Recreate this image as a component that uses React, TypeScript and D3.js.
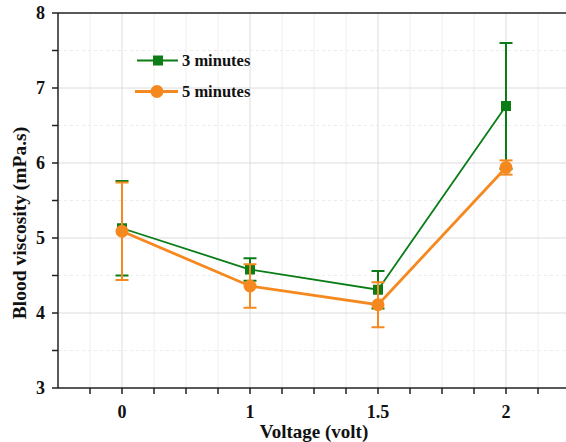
import React from "react";
import * as d3 from "d3";

const categories = ["0", "1", "1.5", "2"];
const series3 = [5.13, 4.58, 4.31, 6.76];
const err3 = [0.63, 0.15, 0.25, 0.84];
const series5 = [5.09, 4.36, 4.11, 5.94];
const err5 = [0.65, 0.29, 0.3, 0.095];
const yTicks = [3, 4, 5, 6, 7, 8];
const seriesNames = ["3 minutes", "5 minutes"];

const W = 566;
const H = 442;
const left = 58;
const bottom = 388;
const top = 13;
const font = "'Liberation Serif', 'Times New Roman', serif";
const green = "#0a7d16";
const orange = "#f5891f";

export default function App() {
  const x = d3.scaleLinear().domain([-0.5, 3.5]).range([left, left + 512]);
  const y = d3.scaleLinear().domain([3, 8]).range([bottom, top]);
  const xTickVals = d3.range(-0.5, 3.51, 0.25);
  const yMinor = d3.range(3, 8.01, 0.5);
  const line = d3
    .line<number>()
    .x((_, i) => x(i))
    .y((d) => y(d));

  const series = [
    { name: seriesNames[0], vals: series3, errs: err3, color: green, width: 1.8, marker: "square" },
    { name: seriesNames[1], vals: series5, errs: err5, color: orange, width: 2.8, marker: "circle" },
  ];

  return (
    <svg width={W} height={H} style={{ position: "absolute", left: 0, top: 0, background: "#fff" }}>
      {/* grid */}
      {xTickVals.slice(1).map((v, i) => {
        const major = Math.abs(v - Math.round(v)) < 1e-6;
        return (
          <line key={"gx" + i} x1={x(v)} x2={x(v)} y1={top} y2={bottom} stroke={major ? "#dcdcdc" : "#eeeeee"} strokeWidth={1} />
        );
      })}
      {yMinor.slice(1, -1).map((v, i) => {
        const major = Math.abs(v - Math.round(v)) < 1e-6;
        return (
          <line key={"gy" + i} x1={left} x2={W} y1={y(v)} y2={y(v)} stroke={major ? "#dcdcdc" : "#ececec"} strokeWidth={1} strokeDasharray={major ? undefined : "3,3"} />
        );
      })}
      {/* axes */}
      <line x1={left} x2={W} y1={top} y2={top} stroke="#222" strokeWidth={1.5} />
      <line x1={left} x2={W} y1={bottom} y2={bottom} stroke="#222" strokeWidth={1.5} />
      <line x1={left} x2={left} y1={top} y2={bottom} stroke="#222" strokeWidth={1.5} />
      {xTickVals.slice(1).map((v, i) => (
        <line key={"tx" + i} x1={x(v)} x2={x(v)} y1={bottom} y2={bottom + 6} stroke="#222" strokeWidth={1.5} />
      ))}
      {yMinor.map((v, i) => (
        <line key={"ty" + i} x1={left - 6} x2={left} y1={y(v)} y2={y(v)} stroke="#222" strokeWidth={1.5} />
      ))}
      {yTicks.map((v) => (
        <text key={"ly" + v} x={left - 13} y={y(v) + 6} textAnchor="end" fontFamily={font} fontWeight="bold" fontSize={18} fill="#111">
          {v}
        </text>
      ))}
      {categories.map((c, i) => (
        <text key={"lx" + c} x={x(i)} y={bottom + 30} textAnchor="middle" fontFamily={font} fontWeight="bold" fontSize={18} fill="#111">
          {c}
        </text>
      ))}
      <text x={314} y={438} textAnchor="middle" fontFamily={font} fontWeight="bold" fontSize={19} fill="#111">
        Voltage (volt)
      </text>
      <text transform={`translate(26,223) rotate(-90)`} textAnchor="middle" fontFamily={font} fontWeight="bold" fontSize={19.5} fill="#111">
        Blood viscosity (mPa.s)
      </text>
      {/* series */}
      {series.map((s) => (
        <g key={s.name}>
          <path d={line(s.vals) || ""} fill="none" stroke={s.color} strokeWidth={s.width} />
          {s.vals.map((v, i) => (
            <g key={i} stroke={s.color} strokeWidth={2}>
              <line x1={x(i)} x2={x(i)} y1={y(v - s.errs[i])} y2={y(v + s.errs[i])} />
              <line x1={x(i) - 6.5} x2={x(i) + 6.5} y1={y(v - s.errs[i])} y2={y(v - s.errs[i])} />
              <line x1={x(i) - 6.5} x2={x(i) + 6.5} y1={y(v + s.errs[i])} y2={y(v + s.errs[i])} />
            </g>
          ))}
          {s.vals.map((v, i) =>
            s.marker === "square" ? (
              <rect key={"m" + i} x={x(i) - 5} y={y(v) - 5} width={10} height={10} fill={s.color} />
            ) : (
              <circle key={"m" + i} cx={x(i)} cy={y(v)} r={6.5} fill={s.color} />
            )
          )}
        </g>
      ))}
      {/* legend */}
      <line x1={137} x2={178} y1={60.5} y2={60.5} stroke={green} strokeWidth={2} />
      <rect x={153} y={55.5} width={10} height={10} fill={green} />
      <text x={182} y={66} fontFamily={font} fontWeight="bold" fontSize={16.5} fill="#111">
        {seriesNames[0]}
      </text>
      <line x1={135} x2={178} y1={91.5} y2={91.5} stroke={orange} strokeWidth={3} />
      <circle cx={157} cy={91.5} r={6.5} fill={orange} />
      <text x={182} y={97} fontFamily={font} fontWeight="bold" fontSize={16.5} fill="#111">
        {seriesNames[1]}
      </text>
    </svg>
  );
}
